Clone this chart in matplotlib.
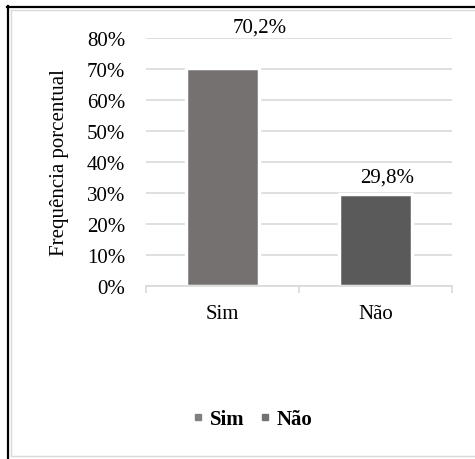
import matplotlib.pyplot as plt
from matplotlib.lines import Line2D
from matplotlib.ticker import PercentFormatter, FixedLocator

categories = ["Sim", "Não"]
values = [70.2, 29.8]
value_labels = ["70,2%", "29,8%"]
colors = ["#767171", "#5a5a5a"]
y_ticks = [0, 10, 20, 30, 40, 50, 60, 70, 80]

plt.rcParams['font.family'] = ['Liberation Serif', 'DejaVu Serif']
FS = 15

fig = plt.figure(figsize=(4.75, 4.6), dpi=100)
W, H = 475, 460


def fig_line(x0, y0, x1, y1, **kw):
    fig.add_artist(Line2D([x0 / W, x1 / W], [1 - y0 / H, 1 - y1 / H],
                          transform=fig.transFigure, **kw))


# frame: dark edge on left/top, light gray inner outline
fig_line(8, 7, 8, 459, color="black", lw=1.6)
fig_line(7, 8, W, 8, color="black", lw=1.6)
fig_line(10.5, 10.5, W, 10.5, color="#d9d9d9", lw=1.0)
fig_line(10.5, 10.5, 10.5, 456.5, color="#d9d9d9", lw=1.0)
fig_line(10.5, 456.5, W, 456.5, color="#d9d9d9", lw=1.0)

ax = fig.add_axes([146 / W, 1 - 287 / H, (452 - 146) / W, (287 - 39) / H])

x = list(range(len(categories)))
ax.bar(x, values, width=0.48, color=colors, edgecolor="white", linewidth=2.5, zorder=3)

ax.set_xlim(-0.5, 1.5)
ax.set_ylim(0, 80)
ax.yaxis.set_major_locator(FixedLocator(y_ticks))
ax.yaxis.set_major_formatter(PercentFormatter(decimals=0))
ax.grid(axis="y", color="#d9d9d9", lw=1.2, zorder=0)
ax.set_axisbelow(True)

for s in ["top", "right", "left"]:
    ax.spines[s].set_visible(False)
ax.spines["bottom"].set_color("#d9d9d9")
ax.spines["bottom"].set_linewidth(1.2)
ax.spines["bottom"].set_zorder(4)

ax.set_xticks(x)
ax.set_xticklabels(categories, fontsize=FS)
ax.xaxis.set_minor_locator(FixedLocator([-0.5, 0.5, 1.5]))
ax.tick_params(axis="x", which="major", length=0, pad=13)
ax.tick_params(axis="x", which="minor", length=5, color="#d9d9d9", width=1.2)
ax.tick_params(axis="y", length=0, labelsize=FS, pad=15)

ax.set_ylabel("Frequência porcentual", fontsize=FS, labelpad=13)

# value labels above the bars
offsets = [(0.245, 13.3), (0.075, 5.4)]
for xi, v, lab, (dx, dy) in zip(x, values, value_labels, offsets):
    ax.text(xi + dx, v + dy, lab, ha="center", va="center", fontsize=FS, clip_on=False)

handles = [Line2D([0], [0], marker="s", linestyle="none", markersize=4.0,
                  markerfacecolor=c, markeredgecolor=c) for c in ["#808080", "#737373"]]
fig.legend(handles, categories, loc="center", bbox_to_anchor=(253 / W, 1 - 420 / H),
           ncol=2, frameon=False, handlelength=0.4, handletextpad=0.35,
           columnspacing=0.8, prop={"weight": "bold", "size": FS})

fig.savefig("out.png", dpi=100)
